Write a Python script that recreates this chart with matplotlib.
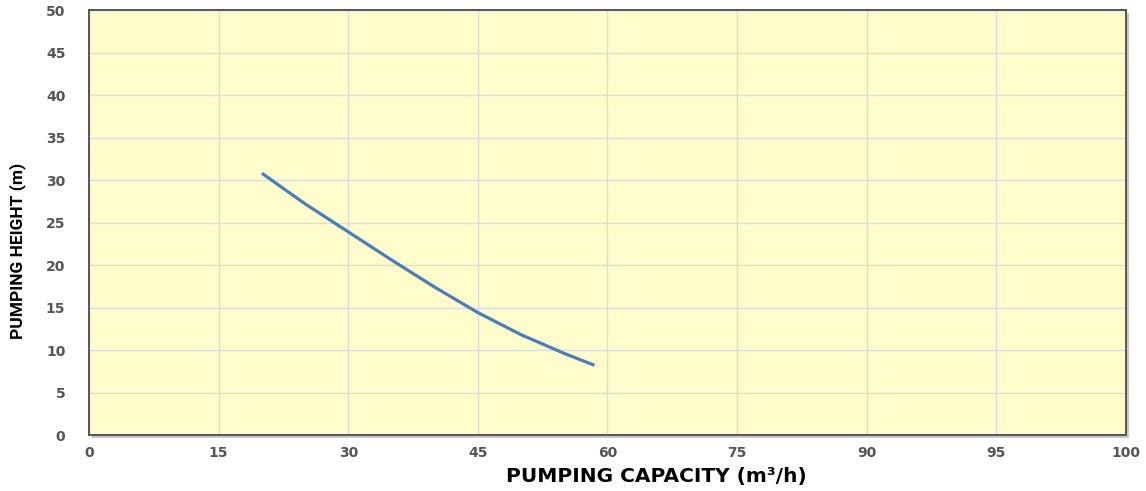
import numpy as np
import matplotlib
matplotlib.use('Agg')
import matplotlib.pyplot as plt
from matplotlib.patches import Rectangle

# pump curve
flow = [20, 25, 30, 35, 40, 45, 50, 55, 58.5]          # m3/h
head = [30.8, 27.2, 23.9, 20.6, 17.4, 14.4, 11.8, 9.6, 8.2]  # m

xtick_labels = ['0', '15', '30', '45', '60', '75', '90', '95', '100']
ytick_vals = [0, 5, 10, 15, 20, 25, 30, 35, 40, 45, 50]

fig = plt.figure(figsize=(11.46, 4.91), dpi=100)
ax = fig.add_axes([0.0777, 0.114, 0.9048, 0.8656])
ax.set_zorder(1)

# drop shadow behind the plot frame
sh = Rectangle((0.0777 + 0.003, 0.114 - 0.007), 0.9048, 0.8656,
               transform=fig.transFigure, facecolor='#c8c8c8',
               edgecolor='none', zorder=-1)
fig.patches.append(sh)

ax.set_facecolor('#fffdcc')
ax.set_xlim(0, 120)
ax.set_ylim(0, 50)
ax.set_xticks(np.arange(0, 121, 15))
ax.set_xticklabels(xtick_labels)
ax.set_yticks(ytick_vals)

ax.grid(True, color='#dcdcdc', linewidth=1.0)
ax.set_axisbelow(True)

ax.plot(flow, head, color='#4a7ebb', linewidth=2.3, solid_capstyle='butt')

for s in ax.spines.values():
    s.set_color('#555555')
    s.set_linewidth(1.4)

ax.tick_params(length=0, labelcolor='#555555')
ax.tick_params(axis='x', pad=8)
ax.tick_params(axis='y', pad=17)
for lab in ax.get_xticklabels() + ax.get_yticklabels():
    lab.set_fontfamily('DejaVu Sans')
    lab.set_fontweight('bold')
    lab.set_fontsize(10)

ax.set_xlabel('PUMPING CAPACITY (m³/h)', fontfamily='DejaVu Sans',
              fontweight='bold', fontsize=14.5)
ax.xaxis.set_label_coords(0.547, -0.075)
ax.set_ylabel('PUMPING HEIGHT (m)',
              fontfamily=['Liberation Sans Narrow', 'Roboto'],
              fontweight='bold', fontsize=12.5)
ax.yaxis.set_label_coords(-0.0685, 0.433)
ax.yaxis.label.set_va('center')

plt.savefig('out.png', dpi=100)
